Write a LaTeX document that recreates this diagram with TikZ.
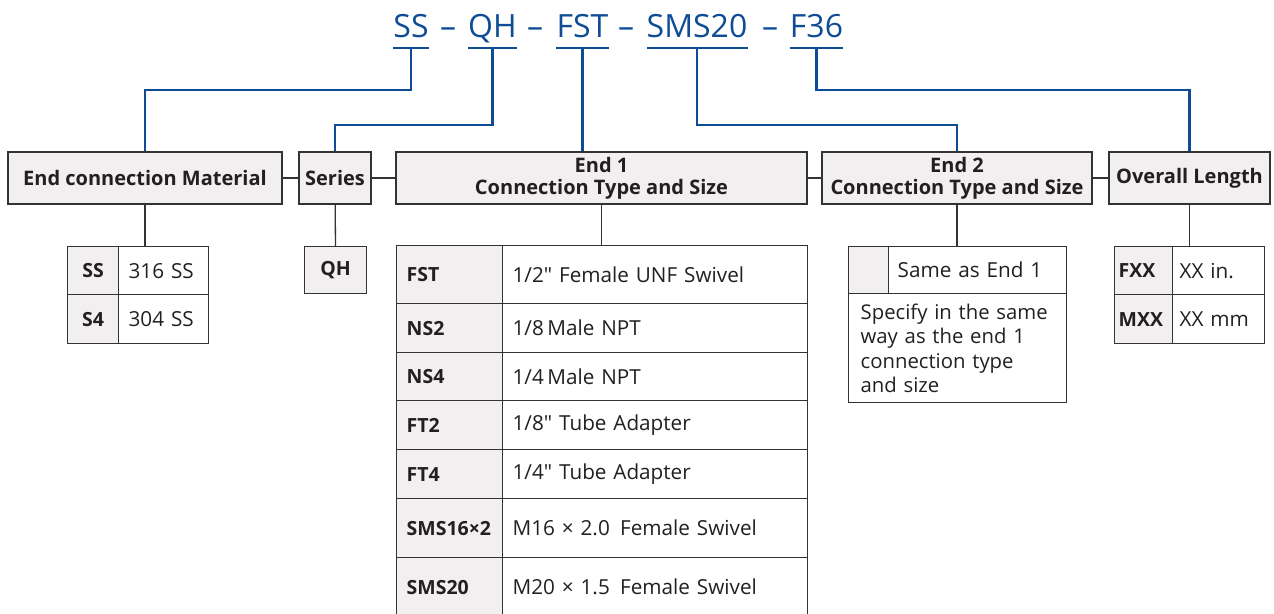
\documentclass[tikz,border=0pt]{standalone}
\usepackage{fontspec}
\setmainfont{Open Sans}[Ligatures=TeXOff]
\definecolor{codeblue}{HTML}{0F4C96}
\definecolor{cellgrey}{HTML}{F1EFF0}
\definecolor{rulegrey}{HTML}{333333}
\definecolor{inkgrey}{HTML}{231F20}
\tikzset{
  hdr/.style={draw=rulegrey, fill=cellgrey, line width=1.5pt, text=inkgrey,
    font=\bfseries\fontsize{20}{22}\selectfont, align=center, inner sep=0pt, minimum height=52pt},
  cell/.style={draw=rulegrey, line width=1.3pt, anchor=north west, text=inkgrey,
    font=\fontsize{20.7}{24.5}\selectfont, align=left, inner ysep=0pt, inner xsep=10pt},
  code/.style={cell, fill=cellgrey, font=\bfseries\fontsize{19.5}{22}\selectfont},
  codeline/.style={draw=codeblue, line width=2.2pt},
  stem/.style={draw=rulegrey, line width=1.3pt}
}
\begin{document}
\begin{tikzpicture}[x=1pt,y=-1pt]
\useasboundingbox (0,0) rectangle (1274,613);

  \begin{scope}[every node/.style={text=codeblue, font=\fontsize{32}{32}\selectfont,
      inner xsep=0pt, inner ysep=10pt, text height=23pt, text depth=0pt, anchor=south}]
    \node (tss)  at (411,48)   {SS};
    \node (tqh)  at (492.5,48) {QH};
    \node (tfst) at (582.5,48) {FST};
    \node (tsms) at (697,48)   {SMS20};
    \node (tf)   at (816.5,48) {F36};
    \node (d1) at (448,48) {–};
    \node (d2) at (535,48) {–};
    \node (d3) at (626,48) {–};
    \node (d4) at (770,48) {–};
  \end{scope}

  \node[hdr, minimum width=274pt] (mat)    at (145,178)    {End connection Material};
  \node[hdr, minimum width=72pt]  (ser)    at (335,178)    {Series};
  \node[hdr, minimum width=411pt] (endone) at (601.5,178)  {End 1\\Connection Type and Size};
  \node[hdr, minimum width=270pt] (endtwo) at (957,178)    {End 2\\Connection Type and Size};
  \node[hdr, minimum width=161pt] (len)    at (1189.5,178) {Overall Length};

  \node[code, text width=31pt, align=center, minimum height=48pt] (mss) at (67,246) {SS};
  \node[cell, text width=70pt, minimum height=48pt] (mssd) at (118,246) {316 SS};
  \node[code, text width=31pt, align=center, minimum height=49pt] (ms4) at (67,294) {S4};
  \node[cell, text width=70pt, minimum height=49pt] (ms4d) at (118,294) {304 SS};

  \node[code, text width=42pt, align=center, minimum height=47pt] (qh) at (304,246) {QH};

  \node[code, text width=86pt, minimum height=58pt] (fst)  at (396,245) {FST};
  \node[cell, text width=285pt, minimum height=58pt] (fstd) at (502,245) {1/2" Female UNF Swivel};
  \node[code, text width=86pt, minimum height=49pt] (ns2)  at (396,303) {NS2};
  \node[cell, text width=285pt, minimum height=49pt] (ns2d) at (502,303) {1/8\,Male NPT};
  \node[code, text width=86pt, minimum height=48pt] (ns4)  at (396,352) {NS4};
  \node[cell, text width=285pt, minimum height=48pt] (ns4d) at (502,352) {1/4\,Male NPT};
  \node[code, text width=86pt, minimum height=49pt] (ft2)  at (396,400) {FT2};
  \node[cell, text width=285pt, minimum height=49pt] (ft2d) at (502,400) {1/8" Tube Adapter};
  \node[code, text width=86pt, minimum height=49pt] (ft4)  at (396,449) {FT4};
  \node[cell, text width=285pt, minimum height=49pt] (ft4d) at (502,449) {1/4" Tube Adapter};
  \node[code, text width=86pt, minimum height=59pt] (sms16)  at (396,498) {SMS16×2};
  \node[cell, text width=285pt, minimum height=59pt] (sms16d) at (502,498) {M16 × 2.0\enspace Female Swivel};
  \node[code, text width=86pt, minimum height=59pt] (sms20)  at (396,557) {SMS20};
  \node[cell, text width=285pt, minimum height=59pt] (sms20d) at (502,557) {M20 × 1.5\enspace Female Swivel};

  \node[code, text width=20pt, minimum height=47pt] (same)  at (848,246) {};
  \node[cell, text width=160pt, inner xsep=9pt, minimum height=47pt] (samed) at (888,246) {Same as End 1};
  \node[cell, text width=194pt, inner xsep=12pt, minimum height=109pt,
    font=\fontsize{20.3}{24.5}\selectfont] (spec) at (848,293)
    {Specify in the same\\way as the end 1\\connection type\\and size};

  \node[code, text width=50pt, inner xsep=4pt, minimum height=48pt] (fxx)  at (1114,246) {FXX};
  \node[cell, text width=78pt, inner xsep=7pt, minimum height=48pt] (fxxd) at (1172,246) {XX in.};
  \node[code, text width=50pt, inner xsep=4pt, minimum height=49pt] (mxx)  at (1114,294) {MXX};
  \node[cell, text width=78pt, inner xsep=7pt, minimum height=49pt] (mxxd) at (1172,294) {XX mm};

  \begin{scope}[every edge/.style={stem}]
    \path (mat) edge (ser);
    \path (ser) edge (endone);
    \path (endone) edge (endtwo);
    \path (endtwo) edge (len);
    \path (ser) edge (qh);
    \path (mat.south) edge (mat.south |- mss.north);
    \path (endone.south) edge (endone.south |- fst.north);
    \path (endtwo.south) edge (endtwo.south |- same.north);
    \path (len.south) edge (len.south |- fxx.north);
  \end{scope}

  \foreach \n in {tss,tqh,tfst,tsms,tf}
    \draw[codeline] (\n.south west) -- (\n.south east);
  \draw[codeline] (tss.south) -- ++(0,42) -| (mat.north);
  \draw[codeline] (tqh.south) -- ++(0,77) -| (ser.north);
  \draw[codeline] (tfst.south) -- (tfst.south |- endone.north);
  \draw[codeline] (tsms.south) -- ++(0,77) -| (endtwo.north);
  \draw[codeline] (tf.south) -- ++(0,42) -| (len.north);

\end{tikzpicture}
\end{document}
